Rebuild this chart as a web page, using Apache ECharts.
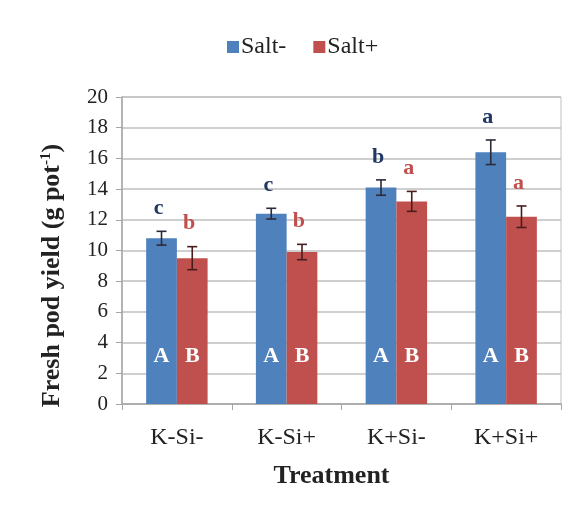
<!DOCTYPE html>
<html>
<head>
<meta charset="utf-8">
<script src="https://cdn.jsdelivr.net/npm/echarts@6/dist/echarts.min.js"></script>
<style>html,body{margin:0;padding:0;background:#fff;}#c{width:573px;height:513px;}</style>
</head>
<body>
<div id="c"></div>
<script>
const categories = ['K-Si-', 'K-Si+', 'K+Si-', 'K+Si+'];
const seriesNames = ['Salt-', 'Salt+'];
const saltMinus = [10.8, 12.4, 14.1, 16.4];
const saltPlus = [9.5, 9.9, 13.2, 12.2];
const errMinus = [0.45, 0.35, 0.5, 0.8];
const errPlus = [0.75, 0.5, 0.65, 0.7];
const lettersMinus = ['c', 'c', 'b', 'a'];
const lettersPlus = ['b', 'b', 'a', 'a'];
const inBarMinus = ['A', 'A', 'A', 'A'];
const inBarPlus = ['B', 'B', 'B', 'B'];
const yTicks = [0, 2, 4, 6, 8, 10, 12, 14, 16, 18, 20];

const FONT = '"Liberation Serif", "Times New Roman", serif';
const BLUE = '#4F81BD', RED = '#C0504D';
const GAP = 0.44;

const chart = echarts.init(document.getElementById('c'));

function errSeries(vals, errs, letters, side, letterColor, errColor) {
  return {
    type: 'custom',
    name: 'err' + side,
    data: vals.map((v, i) => [i, v, errs[i]]),
    z: 5,
    renderItem: function (params, api) {
      const i = api.value(0), v = api.value(1), e = api.value(2);
      const band = api.size([1, 0])[0];
      const bw = band * (1 - GAP) / 2;
      const cx = api.coord([i, 0])[0] + side * bw / 2;
      const top = api.coord([i, v + e])[1];
      const bot = api.coord([i, v - e])[1];
      const cap = 5;
      return {
        type: 'group',
        children: [
          { type: 'line', shape: { x1: cx, y1: top, x2: cx, y2: bot }, style: { stroke: errColor, lineWidth: 1.6 } },
          { type: 'line', shape: { x1: cx - cap, y1: top, x2: cx + cap, y2: top }, style: { stroke: errColor, lineWidth: 1.6 } },
          { type: 'line', shape: { x1: cx - cap, y1: bot, x2: cx + cap, y2: bot }, style: { stroke: errColor, lineWidth: 1.6 } },
          { type: 'text', x: cx - 3, y: top - 12, style: { text: letters[params.dataIndex], fill: letterColor, font: 'bold 22px ' + FONT, align: 'center', verticalAlign: 'bottom' } }
        ]
      };
    }
  };
}

chart.setOption({
  animation: false,
  backgroundColor: '#fff',
  legend: {
    data: seriesNames,
    top: 30,
    left: 222,
    itemWidth: 12,
    itemHeight: 12,
    itemGap: 27,
    icon: 'rect',
    textStyle: { fontFamily: FONT, fontSize: 24, color: '#222', padding: [0, 0, 0, -3] }
  },
  grid: { left: 122, right: 12, top: 97, bottom: 109, show: true, borderColor: '#BFBFBF', borderWidth: 1 },
  xAxis: {
    type: 'category',
    data: categories,
    name: 'Treatment',
    nameLocation: 'middle',
    nameGap: 59,
    nameTextStyle: { fontFamily: FONT, fontSize: 26, fontWeight: 'bold', color: '#222', padding: [0, 20, 0, 0] },
    axisLine: { lineStyle: { color: '#A6A6A6', width: 1.5 } },
    axisTick: { show: true, length: 6, lineStyle: { color: '#A6A6A6' } },
    axisLabel: { fontFamily: FONT, fontSize: 24, color: '#222', margin: 22 }
  },
  yAxis: {
    type: 'value',
    min: 0, max: 20, interval: 2,
    name: 'Fresh pod yield (g pot{sup|-1})',
    nameLocation: 'middle',
    nameGap: 56,
    nameTextStyle: {
      fontFamily: FONT, fontSize: 26, fontWeight: 'bold', color: '#222', padding: [0, 50, 0, 0],
      rich: { sup: { fontFamily: FONT, fontSize: 15, fontWeight: 'bold', color: '#222', verticalAlign: 'top', padding: [0, 0, 12, 0] } }
    },
    axisLine: { show: true, lineStyle: { color: '#A6A6A6', width: 1.5 } },
    axisTick: { show: true, length: 6, lineStyle: { color: '#A6A6A6' } },
    axisLabel: { fontFamily: FONT, fontSize: 21, color: '#222', margin: 14,
      formatter: v => yTicks.indexOf(v) >= 0 ? String(v) : '' },
    splitLine: { lineStyle: { color: '#BFBFBF', width: 1.5 } }
  },
  series: [
    {
      name: seriesNames[0], type: 'bar', data: saltMinus, barGap: '0%', barCategoryGap: (GAP * 100) + '%',
      itemStyle: { color: BLUE },
      label: { show: true, position: 'insideBottom', distance: 37, formatter: p => inBarMinus[p.dataIndex],
        color: '#fff', fontFamily: FONT, fontWeight: 'bold', fontSize: 22 }
    },
    {
      name: seriesNames[1], type: 'bar', data: saltPlus, barGap: '0%', barCategoryGap: (GAP * 100) + '%',
      itemStyle: { color: RED },
      label: { show: true, position: 'insideBottom', distance: 37, formatter: p => inBarPlus[p.dataIndex],
        color: '#fff', fontFamily: FONT, fontWeight: 'bold', fontSize: 22 }
    },
    errSeries(saltMinus, errMinus, lettersMinus, -1, '#1F3864', '#2b2b3a'),
    errSeries(saltPlus, errPlus, lettersPlus, 1, RED, '#4a1c1c')
  ]
});
</script>
</body>
</html>
